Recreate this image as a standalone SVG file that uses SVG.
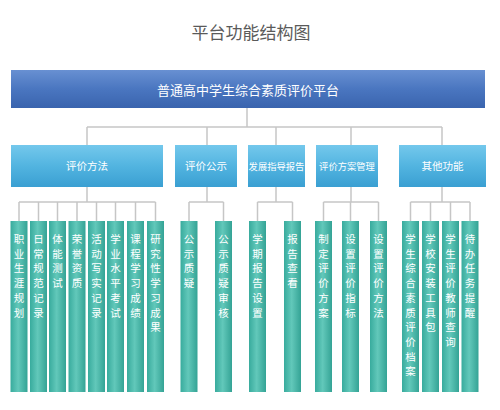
<svg xmlns="http://www.w3.org/2000/svg" width="500" height="410" viewBox="0 0 500 410">
<defs>
<linearGradient id="gTop" x1="0" y1="0" x2="0" y2="1">
<stop offset="0" stop-color="#6890d2"/>
<stop offset="0.5" stop-color="#4a76c0"/>
<stop offset="1" stop-color="#3a64ae"/>
</linearGradient>
<linearGradient id="gSec" x1="0" y1="0" x2="0" y2="1">
<stop offset="0" stop-color="#74c8ec"/>
<stop offset="0.5" stop-color="#52b4e0"/>
<stop offset="1" stop-color="#3a9fd2"/>
</linearGradient>
<linearGradient id="gCol" x1="0" y1="0" x2="1" y2="0">
<stop offset="0" stop-color="#38ab9d"/>
<stop offset="0.45" stop-color="#62c8ba"/>
<stop offset="1" stop-color="#34a395"/>
</linearGradient>
</defs>
<style>
.t{font-family:"Noto Sans CJK SC","Noto Sans",sans-serif;}
.title{font-size:17px;fill:#5a5a5a;text-anchor:middle;}
.top{font-size:13px;fill:#fff;text-anchor:middle;}
.sec{font-size:10.5px;fill:#fff;text-anchor:middle;}
.sec6{font-size:9.3px;}
.col{font-size:10.5px;fill:#fff;text-anchor:middle;}
.ln{stroke:#c6c6c6;stroke-width:1.5;fill:none;}
.secbox{fill:url(#gSec);}
.colbox{fill:url(#gCol);}
</style>
<rect width="500" height="410" fill="#fff"/>
<text class="t title" x="251" y="39">平台功能结构图</text>

<g id="connectors">
<path class="ln" d="M247 108V127M87 127H442M87 127V145M207 127V145M276 127V145M351 127V145M442 127V145"/>
<path class="ln" d="M87 187V202M19 202H155.5M19 202V221M38.5 202V221M57.5 202V221M77 202V221M96.5 202V221M115.5 202V221M135.5 202V221M155.5 202V221"/>
<path class="ln" d="M207 187V202M189 202H223.5M189 202V221M223.5 202V221"/>
<path class="ln" d="M276 187V202M257.5 202H292.5M257.5 202V221M292.5 202V221"/>
<path class="ln" d="M351 187V202M323.5 202H378.5M323.5 202V221M350.5 202V221M378.5 202V221"/>
<path class="ln" d="M442 187V202M410.5 202H470M410.5 202V221M430.5 202V221M450.5 202V221M470 202V221"/>
</g>

<g id="root">
<rect x="11" y="70" width="474" height="38" fill="url(#gTop)"/>
<text class="t top" x="248" y="95">普通高中学生综合素质评价平台</text>
</g>

<g id="n-pjff"><rect class="secbox" x="11" y="145" width="152" height="42"/><text class="t sec" x="87" y="170">评价方法</text></g>
<g id="n-pjgs"><rect class="secbox" x="175" y="145" width="62" height="42"/><text class="t sec" x="206" y="170">评价公示</text></g>
<g id="n-fzzd"><rect class="secbox" x="248" y="145" width="57" height="42"/><text class="t sec sec6" x="276.5" y="169.5">发展指导报告</text></g>
<g id="n-pjfa"><rect class="secbox" x="316" y="145" width="62" height="42"/><text class="t sec sec6" x="347" y="169.5">评价方案管理</text></g>
<g id="n-qtgn"><rect class="secbox" x="399" y="145" width="87" height="42"/><text class="t sec" x="442.5" y="170">其他功能</text></g>

<g id="c1"><rect class="colbox" x="10.5" y="221" width="17" height="171"/><text class="t col" x="19"><tspan x="19" y="243">职</tspan><tspan x="19" dy="14.7">业</tspan><tspan x="19" dy="14.7">生</tspan><tspan x="19" dy="14.7">涯</tspan><tspan x="19" dy="14.7">规</tspan><tspan x="19" dy="14.7">划</tspan></text></g>
<g id="c2"><rect class="colbox" x="30" y="221" width="17" height="171"/><text class="t col"><tspan x="38.5" y="243">日</tspan><tspan x="38.5" dy="14.7">常</tspan><tspan x="38.5" dy="14.7">规</tspan><tspan x="38.5" dy="14.7">范</tspan><tspan x="38.5" dy="14.7">记</tspan><tspan x="38.5" dy="14.7">录</tspan></text></g>
<g id="c3"><rect class="colbox" x="49" y="221" width="17" height="171"/><text class="t col"><tspan x="57.5" y="243">体</tspan><tspan x="57.5" dy="14.7">能</tspan><tspan x="57.5" dy="14.7">测</tspan><tspan x="57.5" dy="14.7">试</tspan></text></g>
<g id="c4"><rect class="colbox" x="68.5" y="221" width="17" height="171"/><text class="t col"><tspan x="77" y="243">荣</tspan><tspan x="77" dy="14.7">誉</tspan><tspan x="77" dy="14.7">资</tspan><tspan x="77" dy="14.7">质</tspan></text></g>
<g id="c5"><rect class="colbox" x="88" y="221" width="17" height="171"/><text class="t col"><tspan x="96.5" y="243">活</tspan><tspan x="96.5" dy="14.7">动</tspan><tspan x="96.5" dy="14.7">写</tspan><tspan x="96.5" dy="14.7">实</tspan><tspan x="96.5" dy="14.7">记</tspan><tspan x="96.5" dy="14.7">录</tspan></text></g>
<g id="c6"><rect class="colbox" x="107" y="221" width="17" height="171"/><text class="t col"><tspan x="115.5" y="243">学</tspan><tspan x="115.5" dy="14.7">业</tspan><tspan x="115.5" dy="14.7">水</tspan><tspan x="115.5" dy="14.7">平</tspan><tspan x="115.5" dy="14.7">考</tspan><tspan x="115.5" dy="14.7">试</tspan></text></g>
<g id="c7"><rect class="colbox" x="127" y="221" width="17" height="171"/><text class="t col"><tspan x="135.5" y="243">课</tspan><tspan x="135.5" dy="14.7">程</tspan><tspan x="135.5" dy="14.7">学</tspan><tspan x="135.5" dy="14.7">习</tspan><tspan x="135.5" dy="14.7">成</tspan><tspan x="135.5" dy="14.7">绩</tspan></text></g>
<g id="c8"><rect class="colbox" x="147" y="221" width="17" height="171"/><text class="t col"><tspan x="155.5" y="243">研</tspan><tspan x="155.5" dy="14.7">究</tspan><tspan x="155.5" dy="14.7">性</tspan><tspan x="155.5" dy="14.7">学</tspan><tspan x="155.5" dy="14.7">习</tspan><tspan x="155.5" dy="14.7">成</tspan><tspan x="155.5" dy="14.7">果</tspan></text></g>

<g id="c9"><rect class="colbox" x="180.5" y="221" width="17" height="171"/><text class="t col"><tspan x="189" y="243">公</tspan><tspan x="189" dy="14.7">示</tspan><tspan x="189" dy="14.7">质</tspan><tspan x="189" dy="14.7">疑</tspan></text></g>
<g id="c10"><rect class="colbox" x="215" y="221" width="17" height="171"/><text class="t col"><tspan x="223.5" y="243">公</tspan><tspan x="223.5" dy="14.7">示</tspan><tspan x="223.5" dy="14.7">质</tspan><tspan x="223.5" dy="14.7">疑</tspan><tspan x="223.5" dy="14.7">审</tspan><tspan x="223.5" dy="14.7">核</tspan></text></g>
<g id="c11"><rect class="colbox" x="249" y="221" width="17" height="171"/><text class="t col"><tspan x="257.5" y="243">学</tspan><tspan x="257.5" dy="14.7">期</tspan><tspan x="257.5" dy="14.7">报</tspan><tspan x="257.5" dy="14.7">告</tspan><tspan x="257.5" dy="14.7">设</tspan><tspan x="257.5" dy="14.7">置</tspan></text></g>
<g id="c12"><rect class="colbox" x="284" y="221" width="17" height="171"/><text class="t col"><tspan x="292.5" y="243">报</tspan><tspan x="292.5" dy="14.7">告</tspan><tspan x="292.5" dy="14.7">查</tspan><tspan x="292.5" dy="14.7">看</tspan></text></g>

<g id="c13"><rect class="colbox" x="315" y="221" width="17" height="171"/><text class="t col"><tspan x="323.5" y="243">制</tspan><tspan x="323.5" dy="14.7">定</tspan><tspan x="323.5" dy="14.7">评</tspan><tspan x="323.5" dy="14.7">价</tspan><tspan x="323.5" dy="14.7">方</tspan><tspan x="323.5" dy="14.7">案</tspan></text></g>
<g id="c14"><rect class="colbox" x="342" y="221" width="17" height="171"/><text class="t col"><tspan x="350.5" y="243">设</tspan><tspan x="350.5" dy="14.7">置</tspan><tspan x="350.5" dy="14.7">评</tspan><tspan x="350.5" dy="14.7">价</tspan><tspan x="350.5" dy="14.7">指</tspan><tspan x="350.5" dy="14.7">标</tspan></text></g>
<g id="c15"><rect class="colbox" x="370" y="221" width="17" height="171"/><text class="t col"><tspan x="378.5" y="243">设</tspan><tspan x="378.5" dy="14.7">置</tspan><tspan x="378.5" dy="14.7">评</tspan><tspan x="378.5" dy="14.7">价</tspan><tspan x="378.5" dy="14.7">方</tspan><tspan x="378.5" dy="14.7">法</tspan></text></g>

<g id="c16"><rect class="colbox" x="402" y="221" width="17" height="171"/><text class="t col"><tspan x="410.5" y="243">学</tspan><tspan x="410.5" dy="14.7">生</tspan><tspan x="410.5" dy="14.7">综</tspan><tspan x="410.5" dy="14.7">合</tspan><tspan x="410.5" dy="14.7">素</tspan><tspan x="410.5" dy="14.7">质</tspan><tspan x="410.5" dy="14.7">评</tspan><tspan x="410.5" dy="14.7">价</tspan><tspan x="410.5" dy="14.7">档</tspan><tspan x="410.5" dy="14.7">案</tspan></text></g>
<g id="c17"><rect class="colbox" x="422" y="221" width="17" height="171"/><text class="t col"><tspan x="430.5" y="243">学</tspan><tspan x="430.5" dy="14.7">校</tspan><tspan x="430.5" dy="14.7">安</tspan><tspan x="430.5" dy="14.7">装</tspan><tspan x="430.5" dy="14.7">工</tspan><tspan x="430.5" dy="14.7">具</tspan><tspan x="430.5" dy="14.7">包</tspan></text></g>
<g id="c18"><rect class="colbox" x="442" y="221" width="17" height="171"/><text class="t col"><tspan x="450.5" y="243">学</tspan><tspan x="450.5" dy="14.7">生</tspan><tspan x="450.5" dy="14.7">评</tspan><tspan x="450.5" dy="14.7">价</tspan><tspan x="450.5" dy="14.7">教</tspan><tspan x="450.5" dy="14.7">师</tspan><tspan x="450.5" dy="14.7">查</tspan><tspan x="450.5" dy="14.7">询</tspan></text></g>
<g id="c19"><rect class="colbox" x="461.5" y="221" width="17" height="171"/><text class="t col"><tspan x="470" y="243">待</tspan><tspan x="470" dy="14.7">办</tspan><tspan x="470" dy="14.7">任</tspan><tspan x="470" dy="14.7">务</tspan><tspan x="470" dy="14.7">提</tspan><tspan x="470" dy="14.7">醒</tspan></text></g>
</svg>
